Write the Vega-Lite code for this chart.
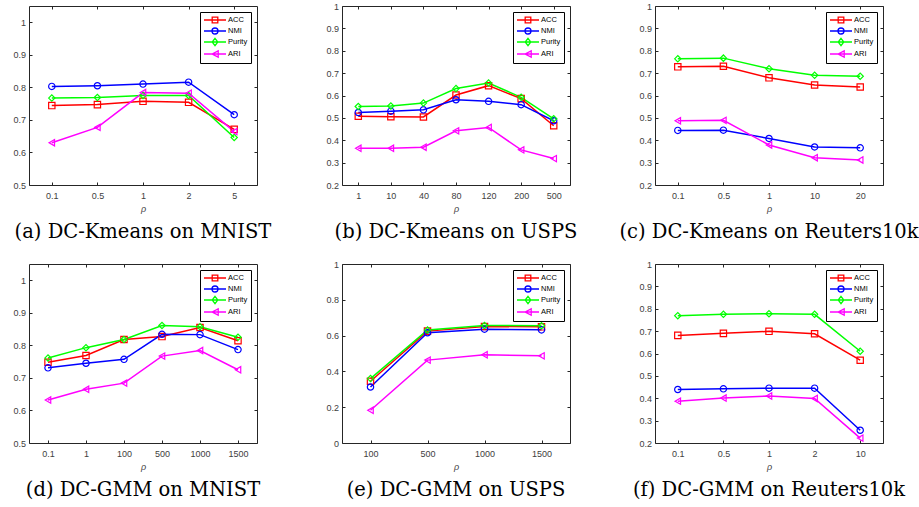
{
"$schema": "https://vega.github.io/schema/vega-lite/v6.json",
"padding": {"left": 12, "top": 1, "right": 5, "bottom": 5},
"background": "white",
"datasets": {
"a": [
{"metric":"ACC","rho":"0.1","value":0.744},{"metric":"ACC","rho":"0.5","value":0.747},{"metric":"ACC","rho":"1","value":0.757},{"metric":"ACC","rho":"2","value":0.754},{"metric":"ACC","rho":"5","value":0.671},
{"metric":"NMI","rho":"0.1","value":0.803},{"metric":"NMI","rho":"0.5","value":0.805},{"metric":"NMI","rho":"1","value":0.810},{"metric":"NMI","rho":"2","value":0.816},{"metric":"NMI","rho":"5","value":0.716},
{"metric":"Purity","rho":"0.1","value":0.767},{"metric":"Purity","rho":"0.5","value":0.769},{"metric":"Purity","rho":"1","value":0.775},{"metric":"Purity","rho":"2","value":0.775},{"metric":"Purity","rho":"5","value":0.646},
{"metric":"ARI","rho":"0.1","value":0.630},{"metric":"ARI","rho":"0.5","value":0.677},{"metric":"ARI","rho":"1","value":0.784},{"metric":"ARI","rho":"2","value":0.782},{"metric":"ARI","rho":"5","value":0.664}
],
"b": [
{"metric":"ACC","rho":"1","value":0.507},{"metric":"ACC","rho":"10","value":0.505},{"metric":"ACC","rho":"40","value":0.504},{"metric":"ACC","rho":"80","value":0.602},{"metric":"ACC","rho":"120","value":0.644},{"metric":"ACC","rho":"200","value":0.586},{"metric":"ACC","rho":"500","value":0.465},
{"metric":"NMI","rho":"1","value":0.524},{"metric":"NMI","rho":"10","value":0.530},{"metric":"NMI","rho":"40","value":0.536},{"metric":"NMI","rho":"80","value":0.581},{"metric":"NMI","rho":"120","value":0.574},{"metric":"NMI","rho":"200","value":0.559},{"metric":"NMI","rho":"500","value":0.487},
{"metric":"Purity","rho":"1","value":0.551},{"metric":"Purity","rho":"10","value":0.553},{"metric":"Purity","rho":"40","value":0.566},{"metric":"Purity","rho":"80","value":0.631},{"metric":"Purity","rho":"120","value":0.656},{"metric":"Purity","rho":"200","value":0.592},{"metric":"Purity","rho":"500","value":0.496},
{"metric":"ARI","rho":"1","value":0.364},{"metric":"ARI","rho":"10","value":0.364},{"metric":"ARI","rho":"40","value":0.369},{"metric":"ARI","rho":"80","value":0.442},{"metric":"ARI","rho":"120","value":0.457},{"metric":"ARI","rho":"200","value":0.357},{"metric":"ARI","rho":"500","value":0.318}
],
"c": [
{"metric":"ACC","rho":"0.1","value":0.728},{"metric":"ACC","rho":"0.5","value":0.731},{"metric":"ACC","rho":"1","value":0.679},{"metric":"ACC","rho":"10","value":0.647},{"metric":"ACC","rho":"20","value":0.638},
{"metric":"NMI","rho":"0.1","value":0.444},{"metric":"NMI","rho":"0.5","value":0.445},{"metric":"NMI","rho":"1","value":0.408},{"metric":"NMI","rho":"10","value":0.370},{"metric":"NMI","rho":"20","value":0.366},
{"metric":"Purity","rho":"0.1","value":0.764},{"metric":"Purity","rho":"0.5","value":0.767},{"metric":"Purity","rho":"1","value":0.720},{"metric":"Purity","rho":"10","value":0.690},{"metric":"Purity","rho":"20","value":0.686},
{"metric":"ARI","rho":"0.1","value":0.487},{"metric":"ARI","rho":"0.5","value":0.489},{"metric":"ARI","rho":"1","value":0.379},{"metric":"ARI","rho":"10","value":0.322},{"metric":"ARI","rho":"20","value":0.312}
],
"d": [
{"metric":"ACC","rho":"0.1","value":0.748},{"metric":"ACC","rho":"1","value":0.769},{"metric":"ACC","rho":"100","value":0.818},{"metric":"ACC","rho":"500","value":0.827},{"metric":"ACC","rho":"1000","value":0.855},{"metric":"ACC","rho":"1500","value":0.814},
{"metric":"NMI","rho":"0.1","value":0.731},{"metric":"NMI","rho":"1","value":0.745},{"metric":"NMI","rho":"100","value":0.757},{"metric":"NMI","rho":"500","value":0.834},{"metric":"NMI","rho":"1000","value":0.833},{"metric":"NMI","rho":"1500","value":0.787},
{"metric":"Purity","rho":"0.1","value":0.761},{"metric":"Purity","rho":"1","value":0.793},{"metric":"Purity","rho":"100","value":0.818},{"metric":"Purity","rho":"500","value":0.861},{"metric":"Purity","rho":"1000","value":0.857},{"metric":"Purity","rho":"1500","value":0.825},
{"metric":"ARI","rho":"0.1","value":0.632},{"metric":"ARI","rho":"1","value":0.665},{"metric":"ARI","rho":"100","value":0.684},{"metric":"ARI","rho":"500","value":0.767},{"metric":"ARI","rho":"1000","value":0.784},{"metric":"ARI","rho":"1500","value":0.725}
],
"e": [
{"metric":"ACC","rho":"100","value":0.345},{"metric":"ACC","rho":"500","value":0.625},{"metric":"ACC","rho":"1000","value":0.651},{"metric":"ACC","rho":"1500","value":0.649},
{"metric":"NMI","rho":"100","value":0.313},{"metric":"NMI","rho":"500","value":0.616},{"metric":"NMI","rho":"1000","value":0.636},{"metric":"NMI","rho":"1500","value":0.632},
{"metric":"Purity","rho":"100","value":0.360},{"metric":"Purity","rho":"500","value":0.631},{"metric":"Purity","rho":"1000","value":0.657},{"metric":"Purity","rho":"1500","value":0.655},
{"metric":"ARI","rho":"100","value":0.183},{"metric":"ARI","rho":"500","value":0.463},{"metric":"ARI","rho":"1000","value":0.493},{"metric":"ARI","rho":"1500","value":0.487}
],
"f": [
{"metric":"ACC","rho":"0.1","value":0.681},{"metric":"ACC","rho":"0.5","value":0.690},{"metric":"ACC","rho":"1","value":0.699},{"metric":"ACC","rho":"2","value":0.688},{"metric":"ACC","rho":"10","value":0.570},
{"metric":"NMI","rho":"0.1","value":0.439},{"metric":"NMI","rho":"0.5","value":0.442},{"metric":"NMI","rho":"1","value":0.445},{"metric":"NMI","rho":"2","value":0.445},{"metric":"NMI","rho":"10","value":0.257},
{"metric":"Purity","rho":"0.1","value":0.769},{"metric":"Purity","rho":"0.5","value":0.775},{"metric":"Purity","rho":"1","value":0.778},{"metric":"Purity","rho":"2","value":0.775},{"metric":"Purity","rho":"10","value":0.610},
{"metric":"ARI","rho":"0.1","value":0.387},{"metric":"ARI","rho":"0.5","value":0.401},{"metric":"ARI","rho":"1","value":0.410},{"metric":"ARI","rho":"2","value":0.399},{"metric":"ARI","rho":"10","value":0.222}
]
},
"columns": 3,
"spacing": {"row": 79, "column": 85},
"bounds": "flush",
"resolve": {"scale": {"color": "independent", "shape": "independent"}, "legend": {"color": "independent", "shape": "independent"}},
"concat": [
{
 "data": {"name": "a"}, "width": 228, "height": 179,
 "title": "(a) DC-Kmeans on MNIST",
 "encoding": {
  "x": {"field": "rho", "type": "ordinal", "title": "ρ", "scale": {"type": "point", "padding": 0.5, "domain": ["0.1","0.5","1","2","5"]}},
  "y": {"field": "value", "type": "quantitative", "title": null, "scale": {"domain": [0.5, 1.05], "nice": false, "zero": false}, "axis": {"values": [0.5,0.6,0.7,0.8,0.9,1], "format": "~g"}},
  "color": {"field": "metric", "type": "nominal", "title": null, "scale": {"domain": ["ACC","NMI","Purity","ARI"], "range": ["#ff0000","#0000ff","#00ff00","#ff00ff"]},
   "legend": {"encoding": {"symbols": {"shape": {"value": {"expr": "datum.value === 'ACC' ? 'M-1,0H4.5M1.05,-0.7H2.45V0.7H1.05Z' : datum.value === 'NMI' ? 'M-1,0H4.5M1,0A0.75,0.75 0 1,0 2.5,0A0.75,0.75 0 1,0 1,0' : datum.value === 'Purity' ? 'M-1,0H4.5M1.75,-0.9L2.45,0L1.75,0.9L1.05,0Z' : 'M-1,0H4.5M1,0L2.55,-0.8L2.55,0.8Z'"}}, "fill": {"value": "transparent"}, "strokeWidth": {"value": 1.3}}}}}
 },
 "layer": [
  {"layer": [
   {"mark": {"type": "line", "strokeWidth": 1.5}},
   {"mark": {"type": "point", "filled": false, "size": 40, "strokeWidth": 1.2, "opacity": 1}, "encoding": {"shape": {"field": "metric", "type": "nominal", "scale": {"range": ["square","triangle-left","circle","diamond"]}, "legend": null}}}
  ]},
  {"mark": {"type": "point", "opacity": 0}, "encoding": {
   "x": {"field": "rho", "type": "ordinal", "scale": {"type": "point", "padding": 0.5, "domain": ["0.1","0.5","1","2","5"]}, "axis": {"orient": "top", "labels": false, "title": null}},
   "y": {"field": "value", "type": "quantitative", "scale": {"domain": [0.5, 1.05], "nice": false, "zero": false}, "axis": {"orient": "right", "labels": false, "title": null, "values": [0.5,0.6,0.7,0.8,0.9,1]}}}}
 ],
 "resolve": {"axis": {"x": "independent", "y": "independent"}}
},
{
 "data": {"name": "b"}, "width": 228, "height": 179,
 "title": "(b) DC-Kmeans on USPS",
 "encoding": {
  "x": {"field": "rho", "type": "ordinal", "title": "ρ", "scale": {"type": "point", "padding": 0.5, "domain": ["1","10","40","80","120","200","500"]}},
  "y": {"field": "value", "type": "quantitative", "title": null, "scale": {"domain": [0.2, 1], "nice": false, "zero": false}, "axis": {"values": [0.2,0.3,0.4,0.5,0.6,0.7,0.8,0.9,1], "format": "~g"}},
  "color": {"field": "metric", "type": "nominal", "title": null, "scale": {"domain": ["ACC","NMI","Purity","ARI"], "range": ["#ff0000","#0000ff","#00ff00","#ff00ff"]},
   "legend": {"encoding": {"symbols": {"shape": {"value": {"expr": "datum.value === 'ACC' ? 'M-1,0H4.5M1.05,-0.7H2.45V0.7H1.05Z' : datum.value === 'NMI' ? 'M-1,0H4.5M1,0A0.75,0.75 0 1,0 2.5,0A0.75,0.75 0 1,0 1,0' : datum.value === 'Purity' ? 'M-1,0H4.5M1.75,-0.9L2.45,0L1.75,0.9L1.05,0Z' : 'M-1,0H4.5M1,0L2.55,-0.8L2.55,0.8Z'"}}, "fill": {"value": "transparent"}, "strokeWidth": {"value": 1.3}}}}}
 },
 "layer": [
  {"layer": [
   {"mark": {"type": "line", "strokeWidth": 1.5}},
   {"mark": {"type": "point", "filled": false, "size": 40, "strokeWidth": 1.2, "opacity": 1}, "encoding": {"shape": {"field": "metric", "type": "nominal", "scale": {"range": ["square","triangle-left","circle","diamond"]}, "legend": null}}}
  ]},
  {"mark": {"type": "point", "opacity": 0}, "encoding": {
   "x": {"field": "rho", "type": "ordinal", "scale": {"type": "point", "padding": 0.5, "domain": ["1","10","40","80","120","200","500"]}, "axis": {"orient": "top", "labels": false, "title": null}},
   "y": {"field": "value", "type": "quantitative", "scale": {"domain": [0.2, 1], "nice": false, "zero": false}, "axis": {"orient": "right", "labels": false, "title": null, "values": [0.2,0.3,0.4,0.5,0.6,0.7,0.8,0.9,1]}}}}
 ],
 "resolve": {"axis": {"x": "independent", "y": "independent"}}
},
{
 "data": {"name": "c"}, "width": 228, "height": 179,
 "title": "(c) DC-Kmeans on Reuters10k",
 "encoding": {
  "x": {"field": "rho", "type": "ordinal", "title": "ρ", "scale": {"type": "point", "padding": 0.5, "domain": ["0.1","0.5","1","10","20"]}},
  "y": {"field": "value", "type": "quantitative", "title": null, "scale": {"domain": [0.2, 1], "nice": false, "zero": false}, "axis": {"values": [0.2,0.3,0.4,0.5,0.6,0.7,0.8,0.9,1], "format": "~g"}},
  "color": {"field": "metric", "type": "nominal", "title": null, "scale": {"domain": ["ACC","NMI","Purity","ARI"], "range": ["#ff0000","#0000ff","#00ff00","#ff00ff"]},
   "legend": {"encoding": {"symbols": {"shape": {"value": {"expr": "datum.value === 'ACC' ? 'M-1,0H4.5M1.05,-0.7H2.45V0.7H1.05Z' : datum.value === 'NMI' ? 'M-1,0H4.5M1,0A0.75,0.75 0 1,0 2.5,0A0.75,0.75 0 1,0 1,0' : datum.value === 'Purity' ? 'M-1,0H4.5M1.75,-0.9L2.45,0L1.75,0.9L1.05,0Z' : 'M-1,0H4.5M1,0L2.55,-0.8L2.55,0.8Z'"}}, "fill": {"value": "transparent"}, "strokeWidth": {"value": 1.3}}}}}
 },
 "layer": [
  {"layer": [
   {"mark": {"type": "line", "strokeWidth": 1.5}},
   {"mark": {"type": "point", "filled": false, "size": 40, "strokeWidth": 1.2, "opacity": 1}, "encoding": {"shape": {"field": "metric", "type": "nominal", "scale": {"range": ["square","triangle-left","circle","diamond"]}, "legend": null}}}
  ]},
  {"mark": {"type": "point", "opacity": 0}, "encoding": {
   "x": {"field": "rho", "type": "ordinal", "scale": {"type": "point", "padding": 0.5, "domain": ["0.1","0.5","1","10","20"]}, "axis": {"orient": "top", "labels": false, "title": null}},
   "y": {"field": "value", "type": "quantitative", "scale": {"domain": [0.2, 1], "nice": false, "zero": false}, "axis": {"orient": "right", "labels": false, "title": null, "values": [0.2,0.3,0.4,0.5,0.6,0.7,0.8,0.9,1]}}}}
 ],
 "resolve": {"axis": {"x": "independent", "y": "independent"}}
},
{
 "data": {"name": "d"}, "width": 228, "height": 179,
 "title": "(d) DC-GMM on MNIST",
 "encoding": {
  "x": {"field": "rho", "type": "ordinal", "title": "ρ", "scale": {"type": "point", "padding": 0.5, "domain": ["0.1","1","100","500","1000","1500"]}},
  "y": {"field": "value", "type": "quantitative", "title": null, "scale": {"domain": [0.5, 1.05], "nice": false, "zero": false}, "axis": {"values": [0.5,0.6,0.7,0.8,0.9,1], "format": "~g"}},
  "color": {"field": "metric", "type": "nominal", "title": null, "scale": {"domain": ["ACC","NMI","Purity","ARI"], "range": ["#ff0000","#0000ff","#00ff00","#ff00ff"]},
   "legend": {"encoding": {"symbols": {"shape": {"value": {"expr": "datum.value === 'ACC' ? 'M-1,0H4.5M1.05,-0.7H2.45V0.7H1.05Z' : datum.value === 'NMI' ? 'M-1,0H4.5M1,0A0.75,0.75 0 1,0 2.5,0A0.75,0.75 0 1,0 1,0' : datum.value === 'Purity' ? 'M-1,0H4.5M1.75,-0.9L2.45,0L1.75,0.9L1.05,0Z' : 'M-1,0H4.5M1,0L2.55,-0.8L2.55,0.8Z'"}}, "fill": {"value": "transparent"}, "strokeWidth": {"value": 1.3}}}}}
 },
 "layer": [
  {"layer": [
   {"mark": {"type": "line", "strokeWidth": 1.5}},
   {"mark": {"type": "point", "filled": false, "size": 40, "strokeWidth": 1.2, "opacity": 1}, "encoding": {"shape": {"field": "metric", "type": "nominal", "scale": {"range": ["square","triangle-left","circle","diamond"]}, "legend": null}}}
  ]},
  {"mark": {"type": "point", "opacity": 0}, "encoding": {
   "x": {"field": "rho", "type": "ordinal", "scale": {"type": "point", "padding": 0.5, "domain": ["0.1","1","100","500","1000","1500"]}, "axis": {"orient": "top", "labels": false, "title": null}},
   "y": {"field": "value", "type": "quantitative", "scale": {"domain": [0.5, 1.05], "nice": false, "zero": false}, "axis": {"orient": "right", "labels": false, "title": null, "values": [0.5,0.6,0.7,0.8,0.9,1]}}}}
 ],
 "resolve": {"axis": {"x": "independent", "y": "independent"}}
},
{
 "data": {"name": "e"}, "width": 228, "height": 179,
 "title": "(e) DC-GMM on USPS",
 "encoding": {
  "x": {"field": "rho", "type": "ordinal", "title": "ρ", "scale": {"type": "point", "padding": 0.5, "domain": ["100","500","1000","1500"]}},
  "y": {"field": "value", "type": "quantitative", "title": null, "scale": {"domain": [0, 1], "nice": false, "zero": false}, "axis": {"values": [0,0.2,0.4,0.6,0.8,1], "format": "~g"}},
  "color": {"field": "metric", "type": "nominal", "title": null, "scale": {"domain": ["ACC","NMI","Purity","ARI"], "range": ["#ff0000","#0000ff","#00ff00","#ff00ff"]},
   "legend": {"encoding": {"symbols": {"shape": {"value": {"expr": "datum.value === 'ACC' ? 'M-1,0H4.5M1.05,-0.7H2.45V0.7H1.05Z' : datum.value === 'NMI' ? 'M-1,0H4.5M1,0A0.75,0.75 0 1,0 2.5,0A0.75,0.75 0 1,0 1,0' : datum.value === 'Purity' ? 'M-1,0H4.5M1.75,-0.9L2.45,0L1.75,0.9L1.05,0Z' : 'M-1,0H4.5M1,0L2.55,-0.8L2.55,0.8Z'"}}, "fill": {"value": "transparent"}, "strokeWidth": {"value": 1.3}}}}}
 },
 "layer": [
  {"layer": [
   {"mark": {"type": "line", "strokeWidth": 1.5}},
   {"mark": {"type": "point", "filled": false, "size": 40, "strokeWidth": 1.2, "opacity": 1}, "encoding": {"shape": {"field": "metric", "type": "nominal", "scale": {"range": ["square","triangle-left","circle","diamond"]}, "legend": null}}}
  ]},
  {"mark": {"type": "point", "opacity": 0}, "encoding": {
   "x": {"field": "rho", "type": "ordinal", "scale": {"type": "point", "padding": 0.5, "domain": ["100","500","1000","1500"]}, "axis": {"orient": "top", "labels": false, "title": null}},
   "y": {"field": "value", "type": "quantitative", "scale": {"domain": [0, 1], "nice": false, "zero": false}, "axis": {"orient": "right", "labels": false, "title": null, "values": [0,0.2,0.4,0.6,0.8,1]}}}}
 ],
 "resolve": {"axis": {"x": "independent", "y": "independent"}}
},
{
 "data": {"name": "f"}, "width": 228, "height": 179,
 "title": "(f) DC-GMM on Reuters10k",
 "encoding": {
  "x": {"field": "rho", "type": "ordinal", "title": "ρ", "scale": {"type": "point", "padding": 0.5, "domain": ["0.1","0.5","1","2","10"]}},
  "y": {"field": "value", "type": "quantitative", "title": null, "scale": {"domain": [0.2, 1], "nice": false, "zero": false}, "axis": {"values": [0.2,0.3,0.4,0.5,0.6,0.7,0.8,0.9,1], "format": "~g"}},
  "color": {"field": "metric", "type": "nominal", "title": null, "scale": {"domain": ["ACC","NMI","Purity","ARI"], "range": ["#ff0000","#0000ff","#00ff00","#ff00ff"]},
   "legend": {"encoding": {"symbols": {"shape": {"value": {"expr": "datum.value === 'ACC' ? 'M-1,0H4.5M1.05,-0.7H2.45V0.7H1.05Z' : datum.value === 'NMI' ? 'M-1,0H4.5M1,0A0.75,0.75 0 1,0 2.5,0A0.75,0.75 0 1,0 1,0' : datum.value === 'Purity' ? 'M-1,0H4.5M1.75,-0.9L2.45,0L1.75,0.9L1.05,0Z' : 'M-1,0H4.5M1,0L2.55,-0.8L2.55,0.8Z'"}}, "fill": {"value": "transparent"}, "strokeWidth": {"value": 1.3}}}}}
 },
 "layer": [
  {"layer": [
   {"mark": {"type": "line", "strokeWidth": 1.5}},
   {"mark": {"type": "point", "filled": false, "size": 40, "strokeWidth": 1.2, "opacity": 1}, "encoding": {"shape": {"field": "metric", "type": "nominal", "scale": {"range": ["square","triangle-left","circle","diamond"]}, "legend": null}}}
  ]},
  {"mark": {"type": "point", "opacity": 0}, "encoding": {
   "x": {"field": "rho", "type": "ordinal", "scale": {"type": "point", "padding": 0.5, "domain": ["0.1","0.5","1","2","10"]}, "axis": {"orient": "top", "labels": false, "title": null}},
   "y": {"field": "value", "type": "quantitative", "scale": {"domain": [0.2, 1], "nice": false, "zero": false}, "axis": {"orient": "right", "labels": false, "title": null, "values": [0.2,0.3,0.4,0.5,0.6,0.7,0.8,0.9,1]}}}}
 ],
 "resolve": {"axis": {"x": "independent", "y": "independent"}}
}
],
"config": {
 "view": {"stroke": "#262626", "strokeWidth": 1},
 "axis": {"domain": false, "grid": false, "tickColor": "#262626", "tickSize": -3, "tickWidth": 1, "labelFont": "Liberation Sans", "labelFontSize": 9, "labelColor": "#404040", "titleFont": "Liberation Sans", "titleFontSize": 9, "titleFontStyle": "italic", "titleFontWeight": "normal", "titleColor": "#404040"},
 "axisX": {"labelAngle": 0, "labelPadding": 9, "titlePadding": 4},
 "axisY": {"labelPadding": 6.5},
 "title": {"orient": "bottom", "anchor": "middle", "font": "DejaVu Serif", "fontSize": 19.5, "fontWeight": "normal", "color": "#000000", "offset": 10},
 "legend": {"orient": "top-right", "offset": 6, "strokeColor": "#000000", "fillColor": "#ffffff", "padding": 3, "symbolSize": 64, "labelFont": "Liberation Sans", "labelFontSize": 7.5, "labelColor": "#000000", "labelOffset": 15, "rowPadding": -2.5, "symbolStrokeWidth": 1.3}
}
}
